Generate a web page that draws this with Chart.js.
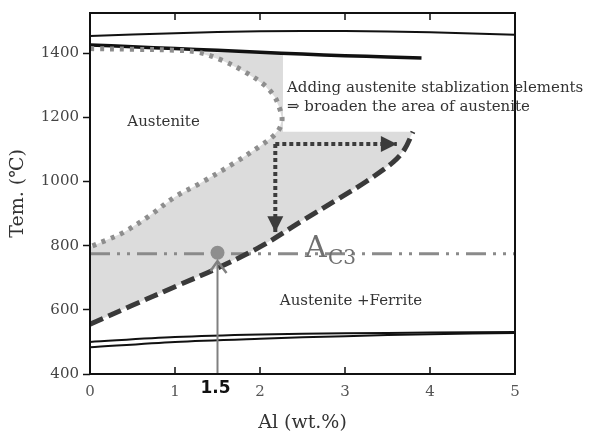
<!DOCTYPE html>
<html>
<head>
<meta charset="utf-8">
<script src="https://cdn.jsdelivr.net/npm/chart.js@4.4.0/dist/chart.umd.min.js"></script>
<style>
  html, body { margin: 0; padding: 0; background: #fff; }
</style>
</head>
<body>
<canvas id="chart" width="591" height="436"></canvas>
<script>
// axis ticks
var xTicks = [0, 1, 2, 3, 4, 5];
var yTicks = [400, 600, 800, 1000, 1200, 1400];

// top solid line
var topLineX = [0, 1, 2, 3, 4, 5];
var topLineY = [1453, 1462, 1468, 1469, 1465, 1457];

// delta / gamma boundary
var deltaX = [0, 0.5, 1, 1.5, 2, 2.5, 3, 3.5, 3.9];
var deltaY = [1425, 1420, 1414, 1409, 1403, 1397, 1392, 1388, 1385];

// austenite loop (dotted, no additive)
var loopX = [0, 0.5, 1.0, 1.27, 1.55, 1.82, 2.05, 2.17, 2.23, 2.26, 2.23, 2.15, 2.0, 1.7, 1.3, 1.0, 0.7, 0.4, 0.2, 0];
var loopY = [1414, 1412, 1409, 1403, 1378, 1342, 1301, 1265, 1228, 1195, 1165, 1140, 1110, 1058, 995, 952, 893, 842, 818, 796];

// shifted Ac3 boundary (dashed)
var ac3X = [0, 0.5, 1.0, 1.5, 2.0, 2.5, 2.94, 3.25, 3.57, 3.7, 3.8];
var ac3Y = [555, 614, 672, 730, 796, 878, 949, 1000, 1061, 1100, 1155];

// corners of the shaded area
var shadeX = [1.27, 2.27, 2.27, 3.8];
var shadeY = [1403, 1400, 1155, 1155];

// lower double line
var lowX = [0, 1, 2, 3, 4, 5];
var lowUpperY = [500, 515, 523, 527, 529, 531];
var lowLowerY = [483, 500, 510, 518, 524, 528];

// Ac3 level
var levelX = [0, 5];
var levelY = [775, 775];

// 1.5 wt% marker
var markX = [1.5];
var markY = [778];
var stemX = [1.5, 1.5];
var stemY = [400, 752];

// dotted arrows
var arrowRightX = [2.18, 3.61];
var arrowRightY = [1117, 1117];
var arrowDownX = [2.18, 2.18];
var arrowDownY = [1117, 842];

function pts(xs, ys) {
  return xs.map(function (x, i) { return { x: x, y: ys[i] }; });
}

// shaded polygon: corners, then dashed curve back down, then loop back up
var shadePts = pts(shadeX, shadeY)
  .concat(pts(ac3X, ac3Y).reverse())
  .concat(pts(loopX, loopY).reverse().slice(0, loopX.length - 3));

var serif = "'DejaVu Serif', 'Liberation Serif', serif";

var overlay = {
  id: 'overlay',
  afterDatasetsDraw: function (chart) {
    var ctx = chart.ctx, xs = chart.scales.x, ys = chart.scales.y, a = chart.chartArea;
    ctx.save();

    // frame
    ctx.strokeStyle = '#111';
    ctx.lineWidth = 2;
    ctx.strokeRect(a.left, a.top, a.right - a.left, a.bottom - a.top);

    // inward ticks top and bottom
    ctx.lineWidth = 1.5;
    xTicks.forEach(function (v) {
      if (v === xTicks[0] || v === xTicks[xTicks.length - 1]) return;
      var px = xs.getPixelForValue(v);
      ctx.beginPath();
      ctx.moveTo(px, a.bottom); ctx.lineTo(px, a.bottom - 7);
      ctx.moveTo(px, a.top); ctx.lineTo(px, a.top + 7);
      ctx.stroke();
    });

    // filled arrowheads on the dotted arrows
    function head(meta, len, half) {
      var p = meta.data[meta.data.length - 1], q = meta.data[meta.data.length - 2];
      var ang = Math.atan2(p.y - q.y, p.x - q.x);
      ctx.save();
      ctx.translate(p.x, p.y);
      ctx.rotate(ang);
      ctx.fillStyle = '#3c3c3c';
      ctx.beginPath();
      ctx.moveTo(0, 0); ctx.lineTo(-len, -half); ctx.lineTo(-len, half);
      ctx.closePath();
      ctx.fill();
      ctx.restore();
    }
    head(chart.getDatasetMeta(1), 16, 8);
    head(chart.getDatasetMeta(2), 16, 8);

    // open arrowhead on the 1.5 stem
    var sm = chart.getDatasetMeta(3);
    var tip = sm.data[sm.data.length - 1];
    ctx.strokeStyle = '#808080';
    ctx.lineWidth = 2.5;
    ctx.beginPath();
    ctx.moveTo(tip.x - 7, tip.y + 10);
    ctx.lineTo(tip.x, tip.y);
    ctx.lineTo(tip.x + 9, tip.y + 12);
    ctx.stroke();

    // texts
    ctx.textBaseline = 'middle';
    ctx.fillStyle = '#333';
    ctx.font = '15px ' + serif;
    ctx.textAlign = 'center';
    ctx.fillText('Austenite', xs.getPixelForValue(0.865), ys.getPixelForValue(1185));
    ctx.fillText('Austenite +Ferrite', xs.getPixelForValue(3.07), ys.getPixelForValue(627));
    ctx.textAlign = 'left';
    ctx.fillText('Adding austenite stablization elements', xs.getPixelForValue(2.318), ys.getPixelForValue(1292));
    ctx.fillText('\u21D2 broaden the area of austenite', xs.getPixelForValue(2.318), ys.getPixelForValue(1231));

    // A_C3 label
    ctx.textBaseline = 'alphabetic';
    ctx.fillStyle = '#707070';
    ctx.font = '30px ' + serif;
    ctx.fillText('A', xs.getPixelForValue(2.53), ys.getPixelForValue(765));
    ctx.font = '20px ' + serif;
    ctx.fillText('C3', xs.getPixelForValue(2.8), ys.getPixelForValue(744));

    // 1.5 label under the axis
    ctx.textAlign = 'center';
    ctx.textBaseline = 'middle';
    ctx.fillStyle = '#111';
    ctx.font = "bold 17px 'DejaVu Sans', sans-serif";
    ctx.fillText('1.5', xs.getPixelForValue(1.5) - 2, a.bottom + 15);

    ctx.restore();
  }
};

new Chart(document.getElementById('chart'), {
  type: 'line',
  data: {
    datasets: [
      { data: pts(loopX, loopY), borderColor: '#8e8e8e', borderWidth: 5, borderDash: [4, 6], tension: 0.35, order: 0 },
      { data: pts(arrowRightX, arrowRightY), borderColor: '#3c3c3c', borderWidth: 4, borderDash: [4, 3], order: 1 },
      { data: pts(arrowDownX, arrowDownY), borderColor: '#3c3c3c', borderWidth: 4, borderDash: [4, 3], order: 1 },
      { data: pts(stemX, stemY), borderColor: '#808080', borderWidth: 2, order: 2 },
      { data: pts(markX, markY), showLine: false, pointRadius: 7, pointBackgroundColor: '#8e8e8e', pointBorderWidth: 0, order: 0 },
      { data: pts(ac3X, ac3Y), borderColor: '#3a3a3a', borderWidth: 5, borderDash: [14, 6], tension: 0.35, order: 3 },
      { data: pts(levelX, levelY), borderColor: '#8a8a8a', borderWidth: 3, borderDash: [20, 7, 3, 7, 3, 7], order: 4 },
      { data: pts(topLineX, topLineY), borderColor: '#111', borderWidth: 2, tension: 0.3, order: 4 },
      { data: pts(deltaX, deltaY), borderColor: '#111', borderWidth: 3.5, tension: 0.3, order: 4 },
      { data: pts(lowX, lowUpperY), borderColor: '#111', borderWidth: 2, tension: 0.3, order: 4 },
      { data: pts(lowX, lowLowerY), borderColor: '#111', borderWidth: 2, tension: 0.3, order: 4 },
      { data: shadePts, borderWidth: 0, borderColor: 'rgba(0,0,0,0)', backgroundColor: '#dcdcdc', fill: 'shape', order: 9 }
    ]
  },
  options: {
    responsive: false,
    animation: false,
    layout: { padding: { top: 7, right: 76, left: 0, bottom: 0 } },
    plugins: { legend: { display: false }, tooltip: { enabled: false } },
    elements: { point: { radius: 0 }, line: { tension: 0 } },
    scales: {
      x: {
        type: 'linear', min: 0, max: 5,
        afterBuildTicks: function (s) { s.ticks = xTicks.map(function (v) { return { value: v }; }); },
        afterFit: function (s) { s.height = 62; },
        grid: { drawOnChartArea: false, drawTicks: false },
        border: { display: false },
        ticks: { padding: 9, color: '#555', font: { family: serif, size: 15 }, callback: function (v) { return String(v); } },
        title: { display: true, text: 'Al (wt.%)', color: '#333', font: { family: serif, size: 19 }, padding: { top: 0, bottom: 2 } }
      },
      y: {
        type: 'linear', min: 400, max: 1525,
        afterBuildTicks: function (s) { s.ticks = yTicks.map(function (v) { return { value: v }; }); },
        afterFit: function (s) { s.width = 90; },
        grid: { drawOnChartArea: false, tickLength: 7, tickColor: '#111', tickWidth: 1.5 },
        border: { display: false },
        ticks: { padding: 4, color: '#444', font: { family: serif, size: 15 }, callback: function (v) { return String(v); } },
        title: { display: true, text: 'Tem. (\u2103)', color: '#333', font: { family: serif, size: 19 }, padding: { top: 7, bottom: 0 } }
      }
    }
  },
  plugins: [overlay]
});
</script>
</body>
</html>
